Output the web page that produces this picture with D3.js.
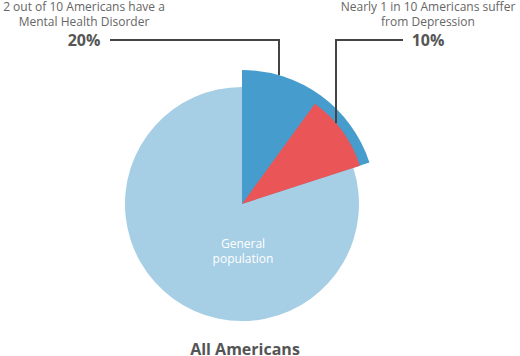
<!DOCTYPE html>
<html>
<head>
<meta charset="utf-8">
<script src="https://cdn.jsdelivr.net/npm/d3@7"></script>
<style>
  body { margin: 0; background: #fff; }
  text { font-family: "Open Sans", sans-serif; }
</style>
</head>
<body>
<div id="viz"></div>
<script>
// data
var groupNames = ['Mental Health Disorder', 'General population'];
var groupValues = [20, 80];
var depressionValue = 10;
var calloutText = [
  ['2 out of 10 Americans have a', 'Mental Health Disorder'],
  ['Nearly 1 in 10 Americans suffer', 'from Depression']
];
var calloutPct = ['20%', '10%'];
var chartTitle = 'All Americans';

var width = 520, height = 356,
  cx = 242, cy = 204,
  rGeneral = 117, rDisorder = 134, rDepression = 124;

var svg = d3.select('#viz').append('svg')
  .attr('width', width)
  .attr('height', height);

var g = svg.append('g')
  .attr('transform', 'translate(' + cx + ',' + cy + ')');

var pie = d3.pie().sort(null)(groupValues);

var angle = d3.scaleLinear()
  .domain([0, d3.sum(groupValues)])
  .range([0, 2 * Math.PI]);

var arc = d3.arc();

// general population (big light slice)
g.append('path')
  .attr('d', arc({ innerRadius: 0, outerRadius: rGeneral, startAngle: pie[1].startAngle, endAngle: pie[1].endAngle }))
  .attr('fill', '#a6cee5');

// disorder slice
g.append('path')
  .attr('d', arc({ innerRadius: 0, outerRadius: rDisorder, startAngle: pie[0].startAngle, endAngle: pie[0].endAngle }))
  .attr('fill', '#469ccd');

// depression slice, sits at the end of the disorder slice
g.append('path')
  .attr('d', arc({ innerRadius: 0, outerRadius: rDepression,
    startAngle: angle(groupValues[0] - depressionValue), endAngle: angle(groupValues[0]) }))
  .attr('fill', '#ea5557');

g.append('text')
  .attr('text-anchor', 'middle')
  .attr('fill', '#fff')
  .style('font-size', '12px')
  .selectAll('tspan')
  .data(['General', 'population'])
  .enter().append('tspan')
  .attr('x', 1)
  .attr('y', function(d, i) { return 44 + i * 15; })
  .text(function(d) { return d; });

// leader lines
var lineY = 40;
var leaders = [
  { x: 279, r: rDisorder, endX: 110 },
  { x: 336, r: rDepression, endX: 403 }
];
leaders.forEach(function(l) {
  var dx = l.x - cx;
  var yArc = cy - Math.sqrt(l.r * l.r - dx * dx);
  svg.append('path')
    .attr('d', 'M' + l.endX + ',' + lineY + 'H' + l.x + 'V' + yArc)
    .attr('fill', 'none')
    .attr('stroke', '#444')
    .attr('stroke-width', 2);
});

// callouts
var calloutX = [84, 428];
calloutText.forEach(function(lines, k) {
  var t = svg.append('text')
    .attr('text-anchor', 'middle')
    .attr('fill', '#666')
    .style('font-size', '12px');
  lines.forEach(function(s, i) {
    t.append('tspan')
      .attr('x', calloutX[k])
      .attr('y', 11 + i * 15)
      .text(s);
  });
  svg.append('text')
    .attr('x', calloutX[k])
    .attr('y', 46)
    .attr('text-anchor', 'middle')
    .attr('fill', '#555')
    .style('font-size', '16px')
    .style('font-weight', 'bold')
    .text(calloutPct[k]);
});

svg.append('text')
  .attr('x', 245)
  .attr('y', 355)
  .attr('text-anchor', 'middle')
  .attr('fill', '#555')
  .style('font-size', '16px')
  .style('font-weight', 'bold')
  .text(chartTitle);
</script>
</body>
</html>
